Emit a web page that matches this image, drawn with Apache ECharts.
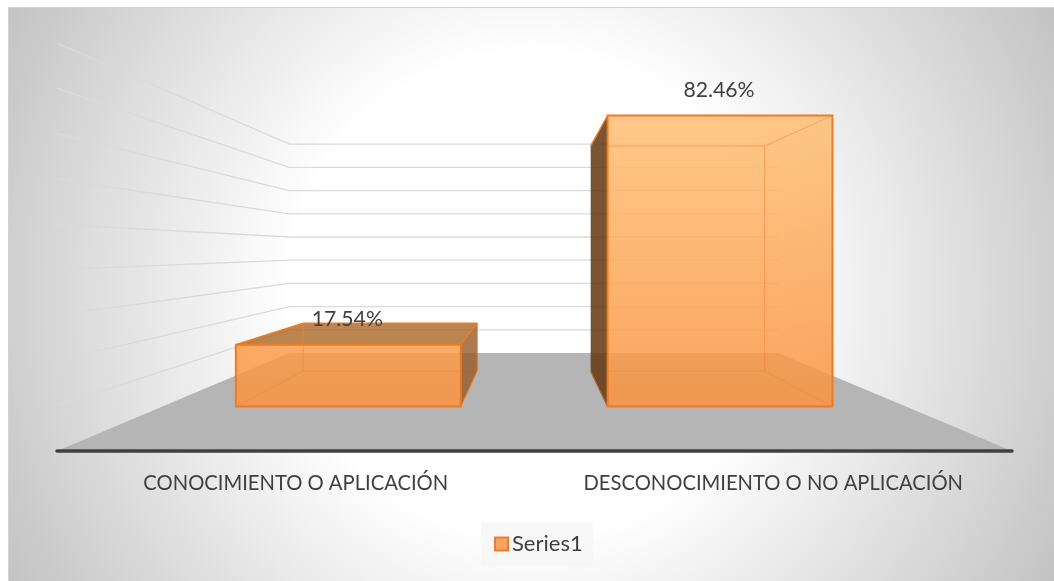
<!DOCTYPE html>
<html><head><meta charset="utf-8">
<style>html,body{margin:0;padding:0;background:#fff}#c{width:1054px;height:581px}</style>
<script src="https://cdn.jsdelivr.net/npm/echarts@6/dist/echarts.min.js"></script>
</head><body><div id="c"></div>
<script>
const categories = ['CONOCIMIENTO O APLICACIÓN', 'DESCONOCIMIENTO O NO APLICACIÓN'];
const seriesName = 'Series1';
const seriesValues = [17.54, 82.46];
const gridValues = [10, 20, 30, 40, 50, 60, 70, 80, 90];

const FONT = 'Lato';
const VP = [533, 250.3];            // vanishing point of the 3D view
const K_WALL = 0.512, K_FRONT = 0.7785, K_BACK = 0.602, BAR_W = 0.605;
const project = (p, k) => [VP[0] + k * (p[0] - VP[0]), VP[1] + k * (p[1] - VP[1])];
const line = (a, b, stroke, lineWidth) => ({type:'line', shape:{x1:a[0],y1:a[1],x2:b[0],y2:b[1]}, style:{stroke, lineWidth, fill:null}});
const poly = (points, fill) => ({type:'polygon', shape:{points}, style:{fill}});

function renderFloor(params, api) {
  const c = params.coordSys, y = c.y + c.height, l = [c.x, y], r = [c.x + c.width, y];
  return poly([l, r, project(r, K_WALL), project(l, K_WALL)], '#b5b5b5');
}
function renderGrid(params, api) {
  const c = params.coordSys, v = api.value(0);
  const yAt = api.coord([0, v])[1];
  const l = [c.x, yAt], r = [c.x + c.width, yAt];
  const a = project(l, K_WALL), b = project(r, K_WALL);
  return {type:'polyline', shape:{points:[l, a, b]}, style:{stroke:'#dadada', lineWidth:1.3, fill:null}};
}
function renderBar(params, api) {
  const i = api.value(0), v = api.value(1);
  const base = api.coord([i, 0]), top = api.coord([i, v]);
  const w = api.size([1, 0])[0] * BAR_W;
  const x0 = base[0] - w / 2, x1 = base[0] + w / 2;
  const P = (x, y, k) => project([x, y], k);
  const fbl = P(x0, base[1], K_FRONT), fbr = P(x1, base[1], K_FRONT), ftl = P(x0, top[1], K_FRONT), ftr = P(x1, top[1], K_FRONT);
  const bbl = P(x0, base[1], K_BACK),  bbr = P(x1, base[1], K_BACK),  btl = P(x0, top[1], K_BACK),  btr = P(x1, top[1], K_BACK);
  const edge = '#ee7b22', inner = 'rgba(250,135,50,0.6)';
  const kids = [];
  const rightVisible = x1 < VP[0];
  // back edge clamped to the part that lies behind the front face
  const clampX = (p) => [Math.min(ftr[0], Math.max(ftl[0], p[0])), p[1]];
  // side and top faces
  if (rightVisible) {
    kids.push(line(bbl, bbr, inner, 1));
    kids.push(poly([fbr, bbr, btr, ftr], 'rgba(150,90,40,0.8)'));
  } else {
    kids.push(poly([fbl, bbl, btl, ftl], 'rgba(99,55,17,0.85)'));
  }
  if (ftl[1] > btl[1]) kids.push(poly([ftl, ftr, btr, btl], 'rgba(171,102,36,0.8)'));
  // front face
  kids.push(poly([fbl, fbr, ftr, ftl], {type:'linear', x:0, y:116, x2:0, y2:407, global:true,
    colorStops:[{offset:0,color:'rgba(255,190,114,0.84)'},{offset:1,color:'rgba(250,146,62,0.84)'}]}));
  // inner edges seen through the translucent box
  kids.push(line(clampX(bbl), clampX(bbr), inner, 1));
  if (rightVisible) {
    kids.push(line(bbl, btl, inner, 1), line(fbl, bbl, inner, 1));
    kids.push(line(ftl, btl, edge, 1.4), line(btl, btr, edge, 1.4), line(btr, ftr, edge, 1.4),
              line(btr, bbr, '#c97a36', 1), line(bbr, fbr, edge, 1));
  } else {
    kids.push(line(clampX(btl), clampX(btr), inner, 1), line(bbr, btr, inner, 1), line(fbr, bbr, inner, 1), line(ftr, btr, inner, 1));
    kids.push(line(ftl, btl, edge, 1.4), line(fbl, bbl, '#a9602a', 1.2));
  }
  kids.push({type:'polygon', shape:{points:[fbl, fbr, ftr, ftl]}, style:{fill:null, stroke:edge, lineWidth:2}});
  kids.push({type:'text', x:(ftl[0] + ftr[0]) / 2 - 1, y:ftl[1] - 25, style:{
    text: v.toFixed(2) + '%', fill:'#404040', fontSize:21.2, fontFamily:FONT, align:'center', verticalAlign:'middle'}});
  return {type:'group', children:kids};
}

const chart = echarts.init(document.getElementById('c'), null, {renderer:'canvas', width:1054, height:581});
chart.setOption({
  animation:false,
  backgroundColor:'#ffffff',
  graphic:[{type:'rect', z:-10, silent:true, shape:{x:8.5,y:7.5,width:1046,height:574},
    style:{stroke:'#d2d2d2', lineWidth:1, fill:{type:'radial', x:531, y:294, r:620, global:true,
      colorStops:[{offset:0,color:'#ffffff'},{offset:0.39,color:'#ffffff'},{offset:1,color:'#bfbfbf'}]}}}],
  grid:{left:57, right:42, top:43, bottom:130, containLabel:false},
  xAxis:{type:'category', data:categories, boundaryGap:true, z:6,
    axisLine:{show:true, lineStyle:{color:'#404040', width:3.5, cap:'round'}},
    axisTick:{show:false}, splitLine:{show:false},
    axisLabel:{interval:0, color:'#404040', fontSize:20.2, fontFamily:FONT, margin:22}},
  yAxis:{type:'value', min:0, max:90, interval:10, show:false, splitLine:{show:false}},
  legend:{show:true, data:[seriesName], left:481, top:522, orient:'horizontal', icon:'rect',
    backgroundColor:'rgba(245,245,245,0.7)', padding:[11,10,11,13], itemWidth:13, itemHeight:13, itemGap:6,
    itemStyle:{color:'#f5a561', borderColor:'#ed7d31', borderWidth:2},
    textStyle:{color:'#404040', fontSize:22, fontFamily:FONT, padding:[0,0,0,-1]}},
  series:[
    {type:'custom', name:'floor', coordinateSystem:'cartesian2d', clip:false, silent:true, z:1, data:[[0,0]], encode:{x:0,y:1}, renderItem:renderFloor},
    {type:'custom', name:'grid', coordinateSystem:'cartesian2d', clip:false, silent:true, z:0, data:gridValues.map(v=>[v]), encode:{y:0}, renderItem:renderGrid},
    {type:'custom', name:seriesName, coordinateSystem:'cartesian2d', clip:false, z:3, itemStyle:{color:'#f5a561'},
     data:seriesValues.map((v,i)=>[i,v]), encode:{x:0,y:1}, renderItem:renderBar}
  ]
});
</script></body></html>
